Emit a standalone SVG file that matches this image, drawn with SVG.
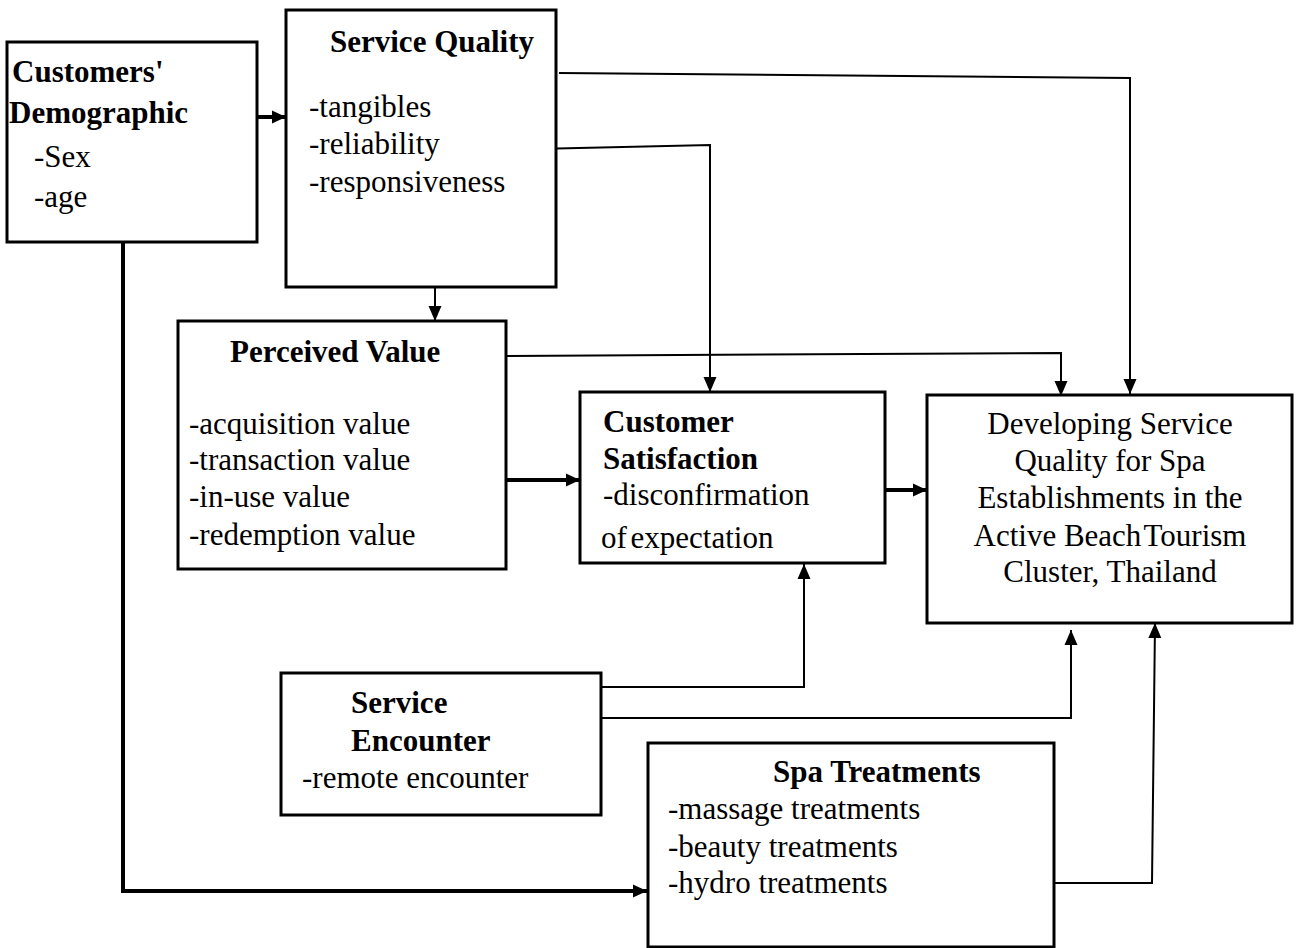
<svg xmlns="http://www.w3.org/2000/svg" width="1297" height="948" viewBox="0 0 1297 948">
<style>
.box{fill:#fff;stroke:#000;stroke-width:3}
.t{font-family:"Liberation Serif","Times New Roman",serif;font-size:31px;fill:#000}
.b{font-weight:bold}
.c{fill:none;stroke:#000;stroke-width:2}
.k{fill:none;stroke:#000;stroke-width:4}
</style>
<defs>
<marker id="ah" markerWidth="15" markerHeight="14" refX="15" refY="7" orient="auto" markerUnits="userSpaceOnUse"><path d="M0,0.5 L15,7 L0,13.5 z" fill="#000"/></marker>
<marker id="ahk" markerWidth="14" markerHeight="14" refX="14" refY="7" orient="auto" markerUnits="userSpaceOnUse"><path d="M0,0.5 L14,7 L0,13.5 z" fill="#000"/></marker>
</defs>
<rect width="1297" height="948" fill="#fff"/>
<g id="connectors">
<path class="k" d="M257,117 H286" marker-end="url(#ahk)"/>
<path class="c" d="M435,287 V321" marker-end="url(#ah)"/>
<path class="c" d="M559,73 L1130,78 V394" marker-end="url(#ah)"/>
<path class="c" d="M557,148.5 L710,145 V392" marker-end="url(#ah)"/>
<path class="c" d="M506,356 L1061,353 V396" marker-end="url(#ah)"/>
<path class="k" d="M506,480 H580" marker-end="url(#ahk)"/>
<path class="k" d="M885,490 H927" marker-end="url(#ahk)"/>
<path class="c" d="M601,687 H804 V564" marker-end="url(#ah)"/>
<path class="c" d="M601,718 H1071 V630" marker-end="url(#ah)"/>
<path class="c" d="M1054,883 H1152 L1155,623" marker-end="url(#ah)"/>
<path class="k" d="M123,239 V891 H647" marker-end="url(#ahk)"/>
</g>
<g id="customers-demographic">
<rect class="box" x="7" y="42" width="250" height="200"/>
<text class="t b" x="12" y="82">Customers'</text>
<text class="t b" x="9" y="123">Demographic</text>
<text class="t" x="34" y="167">-Sex</text>
<text class="t" x="34" y="207">-age</text>
</g>
<g id="service-quality">
<rect class="box" x="286" y="10" width="270" height="277"/>
<text class="t b" x="330" y="52">Service Quality</text>
<text class="t" x="309" y="117">-tangibles</text>
<text class="t" x="309" y="154">-reliability</text>
<text class="t" x="309" y="192">-responsiveness</text>
</g>
<g id="perceived-value">
<rect class="box" x="178" y="321" width="328" height="248"/>
<text class="t b" x="230" y="362">Perceived Value</text>
<text class="t" x="189" y="434">-acquisition value</text>
<text class="t" x="189" y="470">-transaction value</text>
<text class="t" x="189" y="507">-in-use value</text>
<text class="t" x="189" y="545">-redemption value</text>
</g>
<g id="customer-satisfaction">
<rect class="box" x="580" y="392" width="305" height="171"/>
<text class="t b" x="603" y="432">Customer</text>
<text class="t b" x="603" y="469">Satisfaction</text>
<text class="t" x="603" y="505">-disconfirmation</text>
<text class="t" x="601" y="548" word-spacing="-4">of expectation</text>
</g>
<g id="developing">
<rect class="box" x="927" y="395" width="365" height="228"/>
<text class="t" x="1110" y="434" text-anchor="middle">Developing Service</text>
<text class="t" x="1110" y="471" text-anchor="middle">Quality for Spa</text>
<text class="t" x="1110" y="508" text-anchor="middle">Establishments in the</text>
<text class="t" x="1110" y="546" text-anchor="middle">Active Beach<tspan dx="-5"> Tourism</tspan></text>
<text class="t" x="1110" y="582" text-anchor="middle">Cluster, Thailand</text>
</g>
<g id="service-encounter">
<rect class="box" x="281" y="673" width="320" height="142"/>
<text class="t b" x="351" y="713">Service</text>
<text class="t b" x="351" y="751">Encounter</text>
<text class="t" x="302" y="788">-remote encounter</text>
</g>
<g id="spa-treatments">
<rect class="box" x="648" y="743" width="406" height="204"/>
<text class="t b" x="773" y="782">Spa Treatments</text>
<text class="t" x="668" y="819">-massage treatments</text>
<text class="t" x="668" y="857">-beauty treatments</text>
<text class="t" x="668" y="893">-hydro treatments</text>
</g>
</svg>
